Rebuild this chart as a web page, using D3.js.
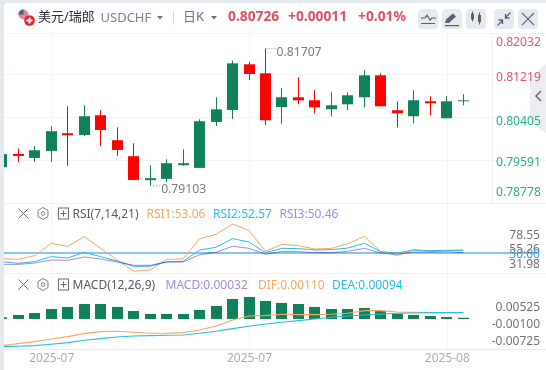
<!DOCTYPE html>
<html>
<head>
<meta charset="utf-8">
<script src="https://cdn.jsdelivr.net/npm/d3@7/dist/d3.min.js"></script>
<style>
html,body{margin:0;padding:0;background:#fff;overflow:hidden}
svg{display:block}
text{font-family:"Noto Sans","Noto Sans CJK SC",sans-serif}
</style>
</head>
<body>
<div id="chart"></div>
<script>
const dates=["2025-06-26","2025-06-27","2025-06-30","2025-07-01","2025-07-02","2025-07-03","2025-07-04","2025-07-07","2025-07-08","2025-07-09","2025-07-10","2025-07-11","2025-07-14","2025-07-15","2025-07-16","2025-07-17","2025-07-18","2025-07-21","2025-07-22","2025-07-23","2025-07-24","2025-07-25","2025-07-28","2025-07-29","2025-07-30","2025-07-31","2025-08-01","2025-08-04","2025-08-05"];
const open =[.79457,.79709,.79633,.79766,.80102,.80069,.80443,.79969,.79666,.79216,.79235,.79501,.79444,.80316,.80543,.81409,.81239,.80600,.80784,.80727,.80557,.80651,.80784,.81201,.80538,.80424,.80708,.80386,.80715];
const close=[.79704,.79671,.79779,.80140,.80069,.80424,.80164,.79785,.79216,.79249,.79533,.79533,.80329,.80556,.81428,.81226,.80348,.80784,.80727,.80594,.80632,.80822,.81201,.80613,.80481,.80727,.80670,.80708,.80726];
const high =[.79779,.79812,.79855,.80234,.80613,.80632,.80538,.80215,.79912,.79495,.79609,.79798,.80367,.80784,.81480,.81461,.81707,.80955,.81163,.80917,.80879,.80879,.81296,.81239,.80708,.80917,.80803,.80803,.80841];
const low  =[.79400,.79558,.79558,.79558,.79482,.80050,.79861,.79671,.79210,.79103,.79173,.79482,.79444,.80240,.80373,.81112,.80259,.80278,.80651,.80481,.80424,.80538,.80594,.80613,.80215,.80291,.80443,.80386,.80632];
const rsi1=[44.4,43.8,47.4,59.5,56.6,66.1,54.6,43.1,32.0,33.3,43.8,44.1,64.1,68.4,78.55,72.3,51.6,58.5,57.2,53.9,54.6,59.2,66.4,51.3,47.4,53.3,51.6,52.6,53.06];
const rsi2=[41.5,39.8,41.5,46.4,45.1,50.7,46.4,42.1,36.9,36.9,41.2,41.8,52.95,55.6,64.1,60.8,50.3,54.6,54.3,52.95,53.3,54.9,59.5,51.3,50.0,52.95,52.3,52.6,52.57];
const rsi3=[38.8,38.8,40.1,43.1,42.8,46.1,44.1,41.2,37.9,37.9,41.2,41.2,48.3,50.7,56.6,54.6,48.7,51.6,51.3,50.3,50.3,51.6,54.6,50.0,48.7,51.0,51.0,51.3,50.46];
const hist=[.00042,.00102,.00152,.00254,.00305,.00381,.00381,.00305,.00203,.00127,.00127,.00127,.00229,.0033,.00508,.00559,.00457,.00407,.00381,.00305,.00254,.00254,.0028,.00203,.00127,.00102,.00076,.00051,.00032];
const dif=[-.00678,-.00627,-.00576,-.00508,-.00449,-.00373,-.00322,-.00313,-.00339,-.00364,-.00364,-.00347,-.0028,-.00178,-.00025,.00076,.00085,.00119,.0011,.0011,.00119,.00144,.00212,.00212,.00178,.00169,.00161,.00161,.0016];
const dea=[-.00703,-.00695,-.00678,-.00644,-.00601,-.00542,-.005,-.00457,-.00432,-.00424,-.00415,-.00407,-.00364,-.00313,-.00246,-.00186,-.00127,-.00085,-.00042,0,.00042,.00076,.00102,.00127,.00144,.00152,.00161,.00161,.0016];
const priceTicks=[.82032,.81219,.80405,.79591,.78778];
const rsiTicks=[78.55,55.26,31.98];
const macdTicks=[.00525,-.00100,-.00725];
const dateTicks=["2025-07-01","2025-07-17","2025-08-04"];

const W=546,H=370;
const GREEN="#10815a",RED="#ff0000",ORANGE="#f7a663",CYAN="#27bfdc",PURPLE="#a688e4";
const svg=d3.select("#chart").append("svg").attr("width",W).attr("height",H);
svg.append("rect").attr("width",W).attr("height",H).attr("fill","#e4e8ef");
svg.append("rect").attr("x",4).attr("y",3).attr("width",W).attr("height",H).attr("rx",4).attr("fill","#fff");
const defs=svg.append("defs");
defs.append("clipPath").attr("id","plot").append("rect").attr("x",4).attr("y",33).attr("width",488).attr("height",320);

const x=d3.scalePoint().domain(dates).range([1.8,463.3]);
const y=d3.scaleLinear().domain([.78778,.82032]).range([203,31.5]);
const yR=d3.scaleLinear().domain([31.98,78.55]).range([271.3,224]);
const yM=d3.scaleLinear().domain([-.00725,.00525]).range([347.5,298.3]);

// frame lines
const frame=svg.append("g");
frame.selectAll("line.h").data(priceTicks.slice(1,4)).join("line")
 .attr("x1",4).attr("x2",W).attr("y1",d=>Math.round(y(d))+.5).attr("y2",d=>Math.round(y(d))+.5).attr("stroke","#f3f4f7");
frame.selectAll("line.v").data(dateTicks).join("line")
 .attr("x1",d=>Math.round(x(d))+.5).attr("x2",d=>Math.round(x(d))+.5).attr("y1",33).attr("y2",349).attr("stroke","#f3f4f7");
[[4,W,33.5,33.5,"#f4f5f8"],[4,W,203.5,203.5,"#eef0f4"],[4,W,273.5,273.5,"#eef0f4"],[4,W,349.5,349.5,"#e9ebf0"],[492.5,492.5,33,203,"#eef0f4"]].forEach(a=>{
 frame.append("line").attr("x1",a[0]).attr("x2",a[1]).attr("y1",a[2]).attr("y2",a[3]).attr("stroke",a[4]);
});

// side tab (below the axis labels)
svg.append("path").attr("d","M546 64L530 77V122L546 133z").attr("fill","#ecedf1");
svg.append("path").attr("d","M541 91l-5 5 5 5").attr("fill","none").attr("stroke","#666b78").attr("stroke-width",1.5);

const plot=svg.append("g").attr("clip-path","url(#plot)");
// candles
const color=i=>close[i]>=open[i]?GREEN:RED;
const idx=d3.range(dates.length);
plot.selectAll("rect.wick").data(idx).join("rect")
 .attr("x",i=>Math.round(x(dates[i])-.5)).attr("width",1)
 .attr("y",i=>y(high[i])).attr("height",i=>y(low[i])-y(high[i])).attr("fill",color);
plot.selectAll("rect.body").data(idx).join("rect")
 .attr("x",i=>Math.round(x(dates[i])-5.5)).attr("width",11)
 .attr("y",i=>Math.min(y(open[i]),y(close[i])))
 .attr("height",i=>Math.max(Math.abs(y(open[i])-y(close[i])),i===28?1:2)).attr("fill",color);

// RSI
plot.append("line").attr("x1",4).attr("x2",492).attr("y1",yR(50)).attr("y2",yR(50)).attr("stroke","#85c6f8").attr("stroke-width",2);
svg.append("line").attr("x1",492).attr("x2",537).attr("y1",yR(50)).attr("y2",yR(50)).attr("stroke","#85c6f8").attr("stroke-width",2);
const line=(scale)=>d3.line().x((d,i)=>x(dates[i])).y(d=>scale(d));
[[rsi1,ORANGE],[rsi2,CYAN],[rsi3,PURPLE]].forEach(s=>{
 plot.append("path").attr("d",line(yR)(s[0])).attr("fill","none").attr("stroke",s[1]).attr("stroke-width",1)
  .style("mix-blend-mode",s[0]===rsi3?"multiply":"normal");
});
// MACD
plot.selectAll("rect.hist").data(idx).join("rect")
 .attr("x",i=>Math.round(x(dates[i])-5.5)).attr("width",11)
 .attr("y",i=>yM(hist[i])).attr("height",i=>yM(0)-yM(hist[i])).attr("fill",GREEN);
[[dif,ORANGE],[dea,CYAN]].forEach(s=>{
 plot.append("path").attr("d",line(yM)(s[0])).attr("fill","none").attr("stroke",s[1]).attr("stroke-width",1.1);
});

// labels for extremes
const TXT="#777b86";
const leader=(d,v,lab)=>{
 const px=x(d),py=y(v);
 svg.append("line").attr("x1",px).attr("x2",px+10).attr("y1",py).attr("y2",py).attr("stroke","#888").attr("stroke-dasharray","1 2");
 svg.append("text").attr("x",px+11).attr("y",py+7).attr("font-size",12.2).attr("fill",TXT).text(lab);
};
leader(dates[16],high[16],"0.81707");
leader(dates[9],low[9],"0.79103");

// axes
const priceOffset=[10.5,2.5,3,1.7,-11];
svg.append("g").selectAll("text").data(priceTicks).join("text")
 .attr("x",541).attr("text-anchor","end").attr("font-size",12.2)
 .attr("y",(d,i)=>y(d)+priceOffset[i]+4.3)
 .attr("fill",d=>d>.8072?"#e2596d":"#2bae94").text(d=>d.toFixed(5));
const rsiOffset=[11,.6,-7.3];
svg.append("g").selectAll("text").data(rsiTicks).join("text")
 .attr("x",540).attr("text-anchor","end").attr("font-size",12)
 .attr("y",(d,i)=>yR(d)+rsiOffset[i]+4.3).attr("fill","#6f7480").text(d=>d.toFixed(2));
svg.append("text").attr("x",540).attr("text-anchor","end").attr("font-size",12)
 .attr("y",yR(50)+5.5).attr("fill","#2f9fe8").text("50.00");
const macdOffset=[8.4,.7,-6.8];
svg.append("g").selectAll("text").data(macdTicks).join("text")
 .attr("x",540).attr("text-anchor","end").attr("font-size",12)
 .attr("y",(d,i)=>yM(d)+macdOffset[i]+4.3).attr("fill","#6f7480").text(d=>d.toFixed(5));
const xAxis=d3.axisBottom(x).tickValues(dateTicks).tickSize(0).tickPadding(0).tickFormat(d=>d.slice(0,7));
const gx=svg.append("g").attr("transform","translate(0,353)").call(xAxis);
gx.select(".domain").remove();
gx.selectAll("text").attr("font-size",12).attr("fill","#a9adb8").attr("font-family",'"Noto Sans",sans-serif').attr("dy","0.72em");

// header
const H_=(tx,ty,s,fill,str,w)=>svg.append("text").attr("x",tx).attr("y",ty).attr("font-size",s).attr("fill",fill).attr("font-weight",w||400).text(str);
svg.append("circle").attr("cx",23.5).attr("cy",14.5).attr("r",5).attr("fill","#d98a96");
svg.append("path").attr("d","M18.5 14.5a5 5 0 0 1 5-5v5z").attr("fill","#4a5a96");
svg.append("circle").attr("cx",29.5).attr("cy",20.5).attr("r",5.3).attr("fill","#ee1c25");
svg.append("path").attr("d","M29.5 17.5v6M26.5 20.5h6").attr("stroke","#fff").attr("stroke-width",2);
H_(38,21,13,"#2a2d34","美元/瑞郎");
H_(100.5,22,13,"#7d8290","USDCHF");
const caret=(cx)=>svg.append("path").attr("d",`M${cx-3} 16h6l-3 3.5z`).attr("fill","#6d7280");
caret(160);caret(214);
svg.append("line").attr("x1",173.5).attr("x2",173.5).attr("y1",11).attr("y2",24).attr("stroke","#d5d8df");
H_(183,21,13,"#6d7280","日K");
H_(228,21,13.8,"#e04f62","0.80726",700);
H_(288,21,13.8,"#e04f62","+0.00011",700);
H_(358,21,13.8,"#e04f62","+0.01%",700);
const btnX=[418,442,466,494,518];
svg.selectAll("rect.btn").data(btnX).join("rect").attr("x",d=>d).attr("y",9).attr("width",20).attr("height",20).attr("rx",4).attr("fill","#e6e9f0");
const ic="#5c6170";
svg.append("path").attr("d","M421 18h4l2-3 3 5 2-2h4M421 23.5h14").attr("fill","none").attr("stroke",ic).attr("stroke-width",1.2);
svg.append("path").attr("d","M445 23l1-3.5 7-6 3 3-7 6.5zM445 25h14v1.2h-14z").attr("fill",ic);
svg.append("path").attr("d","M471 13.5h3v6h-3zM472 11.5h1v10h-1zM478 15h3v7h-3zM479 12.5h1v12h-1z").attr("fill",ic);
svg.append("path").attr("d","M497.5 25.5l5-5M502.5 24v-4h-4M510.5 12.5l-5 5M505.5 14v4h4").attr("fill","none").attr("stroke",ic).attr("stroke-width",1.3);
svg.append("path").attr("d","M522 13l12 12M534 13l-12 12").attr("fill","none").attr("stroke",ic).attr("stroke-width",1.1);

// sub-panel headers
const panelHead=(cy)=>{
 svg.append("path").attr("d",`M18.5 ${cy-5}l10 10M28.5 ${cy-5}l-10 10`).attr("stroke","#666b78").attr("stroke-width",1);
 svg.append("path").attr("d",`M43 ${cy-6}l5 3v6l-5 3-5-3v-6z`).attr("fill","none").attr("stroke","#7a7f8b").attr("stroke-width",1);
 svg.append("circle").attr("cx",43).attr("cy",cy).attr("r",1.8).attr("fill","none").attr("stroke","#7a7f8b");
 svg.append("rect").attr("x",58.5).attr("y",cy-5.5).attr("width",10).attr("height",11).attr("fill","none").attr("stroke","#666b78");
 svg.append("path").attr("d",`M60.5 ${cy}h6M63.5 ${cy-3}v6`).attr("stroke","#666b78");
};
panelHead(213.5);panelHead(284.5);
H_(72.5,218,12,"#555a66","RSI(7,14,21)");
H_(146.5,218,12,ORANGE,"RSI1:53.06");
H_(213,218,12,CYAN,"RSI2:52.57");
H_(279.5,218,12,PURPLE,"RSI3:50.46");
H_(72.5,289,12,"#555a66","MACD(12,26,9)");
H_(165.5,289,12,PURPLE,"MACD:0.00032");
H_(258,289,12,ORANGE,"DIF:0.00110");
H_(332,289,12,CYAN,"DEA:0.00094");
</script>
</body>
</html>
